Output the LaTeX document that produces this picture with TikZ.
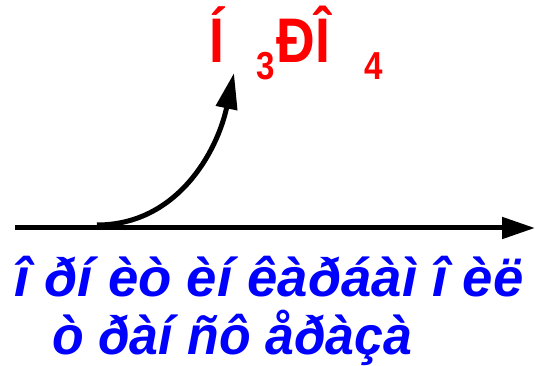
\documentclass[tikz,border=0pt]{standalone}
\usepackage{fontspec}
\setmainfont{Liberation Sans}
\usetikzlibrary{arrows.meta,positioning}

\tikzset{
  acid/.style={text=red, inner sep=0pt, anchor=base west,
    font=\fontsize{63}{70}\selectfont\bfseries},
  enzyme/.style={text=blue, inner sep=0pt, anchor=base west,
    font=\fontsize{54}{60}\selectfont\bfseries\itshape},
  axisline/.style={line width=5pt, -{Triangle[length=33pt,width=21pt]}},
  flow/.style={line width=5pt, -{Triangle[length=36pt,width=21pt]}}
}
\newcommand{\squash}[2]{\scalebox{#1}[1]{#2}}
\newcommand{\lowdig}[1]{\raisebox{-17pt}{\fontsize{39}{40}\selectfont #1}}

\begin{document}
\begin{tikzpicture}[x=1pt,y=1pt]
  \useasboundingbox (0,0) rectangle (535,366);

  % product
  \node[acid] (acid) at (209,303)
    {\squash{0.85}{Í\hspace{38pt}\lowdig{3}\hspace{2pt}ÐÎ\hspace{41pt}\lowdig{4}}};

  % reaction axis
  \coordinate (axisL) at (15,138);
  \coordinate (axisR) at (535,138);
  \draw[axisline] (axisL) -- (axisR);

  % branch to product
  \coordinate (src) at (97,141);
  \coordinate (tip) at (234,293);
  \draw[flow] (src) to[out=0,in=-102] (tip);

  % enzyme name
  \node[enzyme] (name1) at (14,69) {\squash{1.01}{î ðí èò èí êàðáàì î èë}};
  \node[enzyme] (name2) at (52,11) {\squash{0.96}{ò ðàí ñô åðàçà}};
\end{tikzpicture}
\end{document}
